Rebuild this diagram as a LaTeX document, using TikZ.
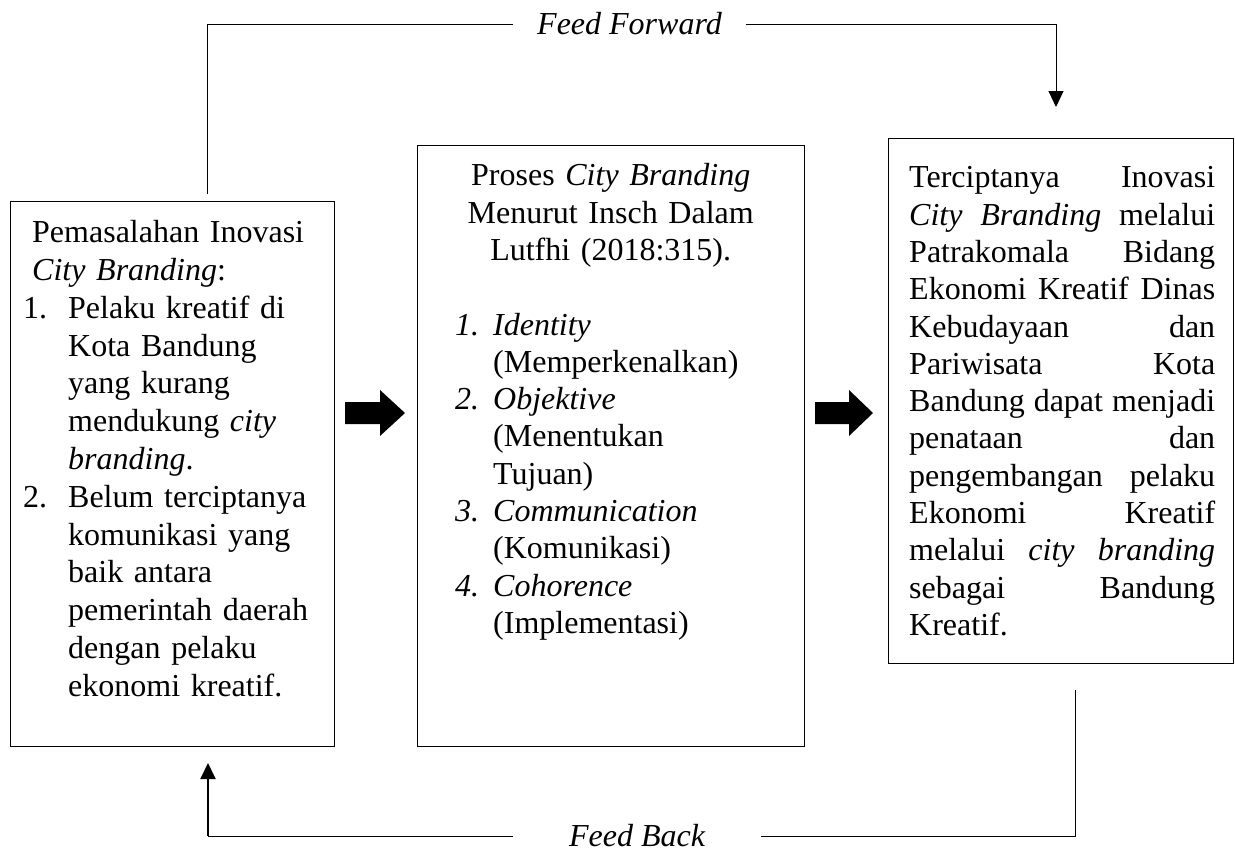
\documentclass[tikz,border=0pt]{standalone}
\usepackage{fontspec}
\setmainfont{Liberation Serif}
\usetikzlibrary{arrows.meta,calc}
\newcommand\fsza{\fontsize{32}{37.8}\selectfont}
\newcommand\fszb{\fontsize{32}{37.3}\selectfont}
\begin{document}
\begin{tikzpicture}[x=1pt,y=-1pt,
  box/.style={draw=black, line width=1.3pt, inner sep=0pt, anchor=north west},
  txt/.style={inner sep=0pt, anchor=north west, font=\fszb},
  lbl/.style={inner sep=0pt, font=\fszb\itshape, anchor=center},
  conn/.style={line width=1pt},
  tip/.style={-{Triangle[width=15pt,length=16pt]}},
  blk/.style={fill=black}]
\useasboundingbox (0,0) rectangle (1235,854);

% boxes
\node[box, minimum width=324pt, minimum height=545pt] (b1) at (10,201) {};
\node[box, minimum width=387pt, minimum height=601pt] (b2) at (417,145) {};
\node[box, minimum width=345pt, minimum height=525pt] (b3) at (888,138) {};

% box texts
\node[txt, font=\fsza, text width=300pt, align=left] (t1) at (23,216) {%
\strut\hspace*{9pt}Pemasalahan Inovasi\\
\hspace*{9pt}\textit{City Branding}:\\
\makebox[45pt][l]{1.}Pelaku kreatif di\\
\hspace*{45pt}Kota Bandung\\
\hspace*{45pt}yang kurang\\
\hspace*{45pt}mendukung \textit{city}\\
\hspace*{45pt}\textit{branding}.\\
\makebox[45pt][l]{2.}Belum terciptanya\\
\hspace*{45pt}komunikasi yang\\
\hspace*{45pt}baik antara\\
\hspace*{45pt}pemerintah daerah\\
\hspace*{45pt}dengan pelaku\\
\hspace*{45pt}ekonomi kreatif.};

\node[txt, text width=387pt, align=left] (t2) at (417,159.5) {%
\strut\makebox[387pt][c]{Proses \textit{City Branding}}\\
\makebox[387pt][c]{Menurut Insch Dalam}\\
\makebox[387pt][c]{Lutfhi (2018:315).}\\
\strut\\
\hspace*{38pt}\makebox[38pt][l]{\textit{1.}}\textit{Identity}\\
\hspace*{76pt}(Memperkenalkan)\\
\hspace*{38pt}\makebox[38pt][l]{\textit{2.}}\textit{Objektive}\\
\hspace*{76pt}(Menentukan\\
\hspace*{76pt}Tujuan)\\
\hspace*{38pt}\makebox[38pt][l]{\textit{3.}}\textit{Communication}\\
\hspace*{76pt}(Komunikasi)\\
\hspace*{38pt}\makebox[38pt][l]{\textit{4.}}\textit{Cohorence}\\
\hspace*{76pt}(Implementasi)};

\node[txt, text width=306pt, align=justify] (t3) at (909,161.5) {%
\strut Terciptanya\hfill Inovasi\\
\textit{City}\hfill\textit{Branding}\hfill melalui\\
Patrakomala\hfill Bidang\\
Ekonomi\hfill Kreatif\hfill Dinas\\
Kebudayaan\hfill dan\\
Pariwisata\hfill Kota\\
Bandung\hfill dapat\hfill menjadi\\
penataan\hfill dan\\
pengembangan\hfill pelaku\\
Ekonomi\hfill Kreatif\\
melalui\hfill\textit{city}\hfill\textit{branding}\\
sebagai\hfill Bandung\\
Kreatif.};

% block arrows between boxes
\coordinate (a1) at (345,413);
\coordinate (a2) at (815,413);
\fill[blk] (a1) ++(0,-11) -- ++(35,0) -- ++(0,-12) -- ++(25,23) -- ++(-25,23) -- ++(0,-12) -- ++(-35,0) -- cycle;
\fill[blk] (a2) ++(0,-11) -- ++(34,0) -- ++(0,-12) -- ++(24,23) -- ++(-24,23) -- ++(0,-12) -- ++(-34,0) -- cycle;

% feed forward
\node[lbl, minimum width=233pt] (ffl) at (629.5,24) {Feed Forward};
\coordinate (ffs) at (207,194);
\coordinate (ffe) at (1056,107);
\draw[conn] (ffs) |- (ffl.west);
\draw[conn,tip] (ffl.east) -| (ffe);

% feed back
\node[lbl, minimum width=248pt] (fbl) at (637,836) {Feed Back};
\coordinate (fbs) at (1075,690);
\coordinate (fbc) at (208,836);
\coordinate (fbe) at (208,763);
\draw[conn] (fbs) |- (fbl.east);
\draw[conn] (fbl.west) -- (fbc);
\draw[line width=2pt,tip] (fbc) -- (fbe);
\end{tikzpicture}
\end{document}
